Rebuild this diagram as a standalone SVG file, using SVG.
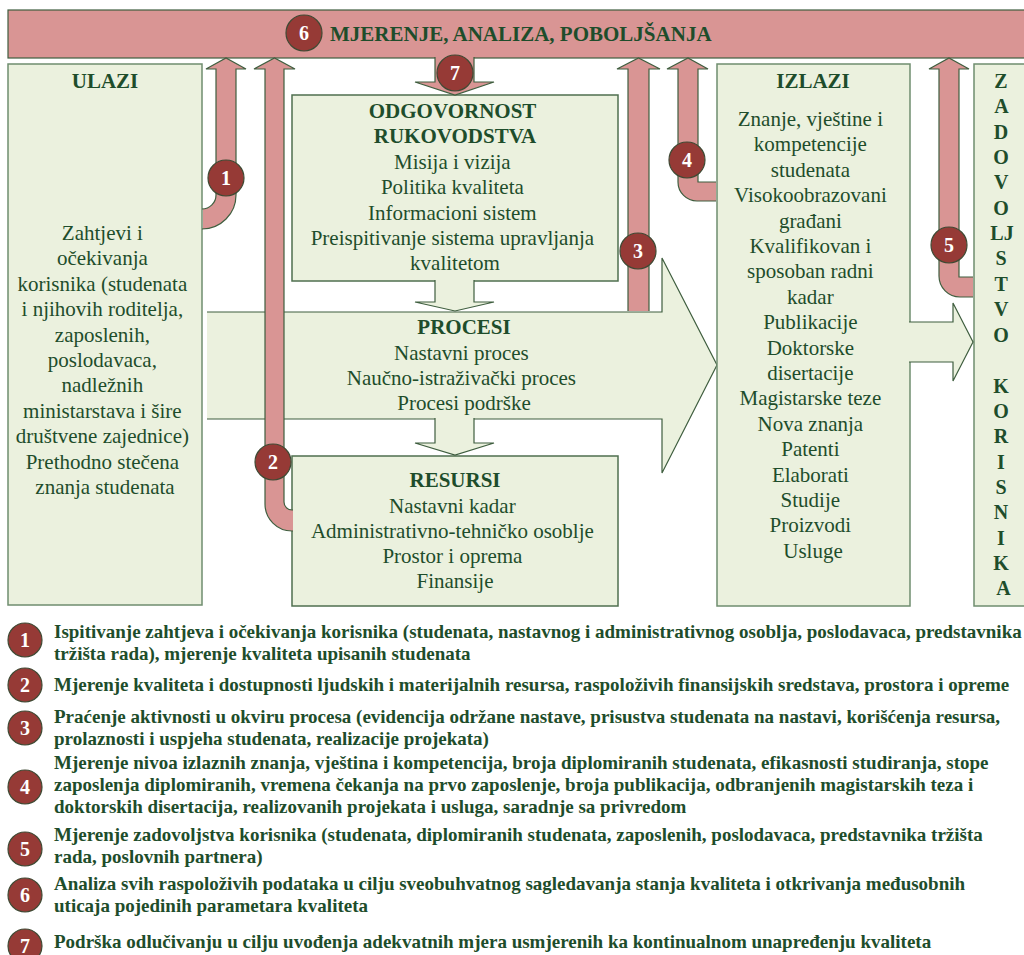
<svg xmlns="http://www.w3.org/2000/svg" width="1024" height="955" viewBox="0 0 1024 955">
<style>
.box{fill:#ebf1de;stroke:#6f8d6f;stroke-width:1.5}
.pink{fill:#d99594;stroke:#3f5e3f;stroke-width:1.2;stroke-linejoin:miter}
.garr{fill:#ebf1de;stroke:#3f5e3f;stroke-width:1.2}
.badge circle{fill:#963a36;stroke:#3f4a34;stroke-width:1.2}
.badge text{fill:#ffffff;font-family:"Liberation Serif",serif;font-weight:bold;font-size:20px;text-anchor:middle}
.t{fill:#1e4d2b;font-family:"Liberation Serif",serif;font-size:21px;text-anchor:middle}
.tb{fill:#1e4d2b;font-family:"Liberation Serif",serif;font-size:21px;font-weight:bold;text-anchor:middle}
.v{fill:#1e4d2b;font-family:"Liberation Serif",serif;font-size:20px;font-weight:bold;text-anchor:middle}
.leg{fill:#1e4d2b;font-family:"Liberation Serif",serif;font-size:19px;font-weight:bold}
</style>

<g id="band">
  <rect x="8" y="10" width="1030" height="48" class="pink"/>
  <text x="330" y="41" class="tb" style="text-anchor:start">MJERENJE, ANALIZA, POBOLJŠANJA</text>
</g>

<g id="ulazi">
  <rect x="8" y="64" width="194" height="541" class="box"/>
  <text x="105" y="88" class="tb">ULAZI</text>
  <text class="t">
    <tspan x="105" y="240">Zahtjevi i</tspan>
    <tspan x="105" y="265.4">očekivanja</tspan>
    <tspan x="105" y="290.8">korisnika (studenata</tspan>
    <tspan x="105" y="316.2">i njihovih roditelja,</tspan>
    <tspan x="105" y="341.6">zaposlenih,</tspan>
    <tspan x="105" y="367">poslodavaca,</tspan>
    <tspan x="105" y="392.4">nadležnih</tspan>
    <tspan x="105" y="417.8">ministarstava i šire</tspan>
    <tspan x="105" y="443.2">društvene zajednice)</tspan>
    <tspan x="105" y="468.6">Prethodno stečena</tspan>
    <tspan x="105" y="494">znanja studenata</tspan>
  </text>
</g>

<g id="odgovornost">
  <rect x="292" y="95" width="326" height="186" class="box" style="stroke:#4f6f4f"/>
  <text class="tb">
    <tspan x="455" y="118">ODGOVORNOST</tspan>
    <tspan x="455" y="143">RUKOVODSTVA</tspan>
  </text>
  <text class="t">
    <tspan x="455" y="168.5">Misija i vizija</tspan>
    <tspan x="455" y="194">Politika kvaliteta</tspan>
    <tspan x="455" y="219.5">Informacioni sistem</tspan>
    <tspan x="455" y="245">Preispitivanje sistema upravljanja</tspan>
    <tspan x="455" y="270">kvalitetom</tspan>
  </text>
</g>

<g id="procesi">
  <path d="M207,419 L662,419 L662,473 L717,365 L662,258 L662,312 L207,312" class="garr"/>
  <text x="464" y="334" class="tb">PROCESI</text>
  <text class="t">
    <tspan x="464" y="360">Nastavni proces</tspan>
    <tspan x="464" y="385">Naučno-istraživački proces</tspan>
    <tspan x="464" y="410">Procesi podrške</tspan>
  </text>
</g>

<g id="resursi">
  <rect x="292" y="456" width="326" height="150" class="box" style="stroke:#4f6f4f"/>
  <text x="455" y="487" class="tb">RESURSI</text>
  <text class="t">
    <tspan x="455" y="512.5">Nastavni kadar</tspan>
    <tspan x="455" y="538">Administrativno-tehničko osoblje</tspan>
    <tspan x="455" y="563">Prostor i oprema</tspan>
    <tspan x="455" y="588">Finansije</tspan>
  </text>
</g>

<g id="izlazi">
  <rect x="717" y="64" width="193" height="542" class="box"/>
  <text x="813" y="88" class="tb">IZLAZI</text>
  <text class="t">
    <tspan x="813" y="126">Znanje, vještine i</tspan>
    <tspan x="813" y="151.4">kompetencije</tspan>
    <tspan x="813" y="176.8">studenata</tspan>
    <tspan x="813" y="202.2">Visokoobrazovani</tspan>
    <tspan x="813" y="227.6">građani</tspan>
    <tspan x="813" y="253">Kvalifikovan i</tspan>
    <tspan x="813" y="278.4">sposoban radni</tspan>
    <tspan x="813" y="303.8">kadar</tspan>
    <tspan x="813" y="329.2">Publikacije</tspan>
    <tspan x="813" y="354.6">Doktorske</tspan>
    <tspan x="813" y="380">disertacije</tspan>
    <tspan x="813" y="405.4">Magistarske teze</tspan>
    <tspan x="813" y="430.8">Nova znanja</tspan>
    <tspan x="813" y="456.2">Patenti</tspan>
    <tspan x="813" y="481.6">Elaborati</tspan>
    <tspan x="813" y="507">Studije</tspan>
    <tspan x="813" y="532.4">Proizvodi</tspan>
    <tspan x="813" y="557.8">Usluge</tspan>
  </text>
</g>

<g id="zadovoljstvo">
  <rect x="974" y="64" width="64" height="542" class="box"/>
  <text class="v">
    <tspan x="1003.5" y="88">Z</tspan>
    <tspan x="1003.5" y="113.4">A</tspan>
    <tspan x="1003.5" y="138.7">D</tspan>
    <tspan x="1003.5" y="164">O</tspan>
    <tspan x="1003.5" y="189.4">V</tspan>
    <tspan x="1003.5" y="214.7">O</tspan>
    <tspan x="1004.5" y="240">LJ</tspan>
    <tspan x="1003.5" y="265.4">S</tspan>
    <tspan x="1003.5" y="290.8">T</tspan>
    <tspan x="1003.5" y="316">V</tspan>
    <tspan x="1003.5" y="341.5">O</tspan>
    <tspan x="1003.5" y="392.5">K</tspan>
    <tspan x="1003.5" y="418">O</tspan>
    <tspan x="1003.5" y="443.3">R</tspan>
    <tspan x="1003.5" y="468.6">I</tspan>
    <tspan x="1003.5" y="494">S</tspan>
    <tspan x="1003.5" y="519.3">N</tspan>
    <tspan x="1003.5" y="544.6">I</tspan>
    <tspan x="1003.5" y="570">K</tspan>
    <tspan x="1003.5" y="595.3">A</tspan>
  </text>
</g>

<g id="connectors">
  <!-- 1: ULAZI -> band -->
  <path d="M203,229 L202,229 A34,34 0 0 0 236,195 L236,69 L246,69 L226,58 L206,69 L216,69 L216,195 A14,14 0 0 1 202,209 L203,209" class="pink"/>
  <!-- 2: RESURSI -> band -->
  <path d="M293,531 L292,531 A27,27 0 0 1 265,504 L265,69 L254,69 L274.5,58 L295,69 L284,69 L284,502 A8,8 0 0 0 292,510 L293,510" class="pink"/>
  <!-- 3: PROCESI -> band -->
  <path d="M628,311 L628,69 L617,69 L638.5,58 L660,69 L649,69 L649,311" class="pink"/>
  <!-- 4: IZLAZI -> band -->
  <path d="M716,201 L697,201 A19,19 0 0 1 678,182 L678,69 L667,69 L688,58 L708,69 L698,69 L698,182 L716,182" class="pink"/>
  <!-- 5: ZADOVOLJSTVO -> band -->
  <path d="M973,297 L960,297 A21,21 0 0 1 939,276 L939,69 L929,69 L949,58 L969,69 L959,69 L959,277 L973,277" class="pink"/>
  <!-- 7: band -> ODGOVORNOST -->
  <path d="M435,57 L435,82 L415,82 L455,95 L494,82 L474,82 L474,57" class="pink"/>
  <!-- ODGOVORNOST -> PROCESI -->
  <path d="M435,280 L435,302 L415,302 L455,311 L494,302 L474,302 L474,280" class="garr"/>
  <!-- PROCESI -> RESURSI -->
  <path d="M435,418 L435,443 L415,443 L455,455 L494,443 L474,443 L474,418" class="garr"/>
  <!-- IZLAZI -> ZADOVOLJSTVO -->
  <path d="M909,322 L953,322 L953,303 L973,342 L953,381 L953,362 L909,362" class="garr"/>
</g>

<g id="badges">
  <g class="badge"><circle cx="304" cy="33" r="18"/><text x="304" y="40">6</text></g>
  <g class="badge"><circle cx="455" cy="73" r="18"/><text x="455" y="80">7</text></g>
  <g class="badge"><circle cx="226" cy="178" r="18"/><text x="226" y="185">1</text></g>
  <g class="badge"><circle cx="273" cy="462" r="18"/><text x="273" y="469">2</text></g>
  <g class="badge"><circle cx="638" cy="251" r="18"/><text x="638" y="258">3</text></g>
  <g class="badge"><circle cx="687" cy="160" r="18"/><text x="687" y="167">4</text></g>
  <g class="badge"><circle cx="949" cy="245" r="18"/><text x="949" y="252">5</text></g>
</g>

<g id="legend">
  <g class="badge"><circle cx="25" cy="640" r="17"/><text x="25" y="647">1</text></g>
  <g class="badge"><circle cx="25" cy="685" r="17"/><text x="25" y="692">2</text></g>
  <g class="badge"><circle cx="25" cy="728" r="17"/><text x="25" y="735">3</text></g>
  <g class="badge"><circle cx="25" cy="787" r="17"/><text x="25" y="794">4</text></g>
  <g class="badge"><circle cx="25" cy="849" r="17"/><text x="25" y="856">5</text></g>
  <g class="badge"><circle cx="25" cy="895" r="17"/><text x="25" y="902">6</text></g>
  <g class="badge"><circle cx="25" cy="946" r="17"/><text x="25" y="953">7</text></g>
  <text class="leg">
    <tspan x="54" y="638">Ispitivanje zahtjeva i očekivanja korisnika (studenata, nastavnog i administrativnog osoblja, poslodavaca, predstavnika</tspan>
    <tspan x="54" y="660">tržišta rada), mjerenje kvaliteta upisanih studenata</tspan>
    <tspan x="54" y="691">Mjerenje kvaliteta i dostupnosti ljudskih i materijalnih resursa, raspoloživih finansijskih sredstava, prostora i opreme</tspan>
    <tspan x="54" y="723">Praćenje aktivnosti u okviru procesa (evidencija održane nastave, prisustva studenata na nastavi, korišćenja resursa,</tspan>
    <tspan x="54" y="745">prolaznosti i uspjeha studenata, realizacije projekata)</tspan>
    <tspan x="54" y="769">Mjerenje nivoa izlaznih znanja, vještina i kompetencija, broja diplomiranih studenata, efikasnosti studiranja, stope</tspan>
    <tspan x="54" y="791">zaposlenja diplomiranih, vremena čekanja na prvo zaposlenje, broja publikacija, odbranjenih magistarskih teza i</tspan>
    <tspan x="54" y="813">doktorskih disertacija, realizovanih projekata i usluga, saradnje sa privredom</tspan>
    <tspan x="54" y="841">Mjerenje zadovoljstva korisnika (studenata, diplomiranih studenata, zaposlenih, poslodavaca, predstavnika tržišta</tspan>
    <tspan x="54" y="863">rada, poslovnih partnera)</tspan>
    <tspan x="54" y="890">Analiza svih raspoloživih podataka u cilju sveobuhvatnog sagledavanja stanja kvaliteta i otkrivanja međusobnih</tspan>
    <tspan x="54" y="912">uticaja pojedinih parametara kvaliteta</tspan>
    <tspan x="54" y="948">Podrška odlučivanju u cilju uvođenja adekvatnih mjera usmjerenih ka kontinualnom unapređenju kvaliteta</tspan>
  </text>
</g>
</svg>
